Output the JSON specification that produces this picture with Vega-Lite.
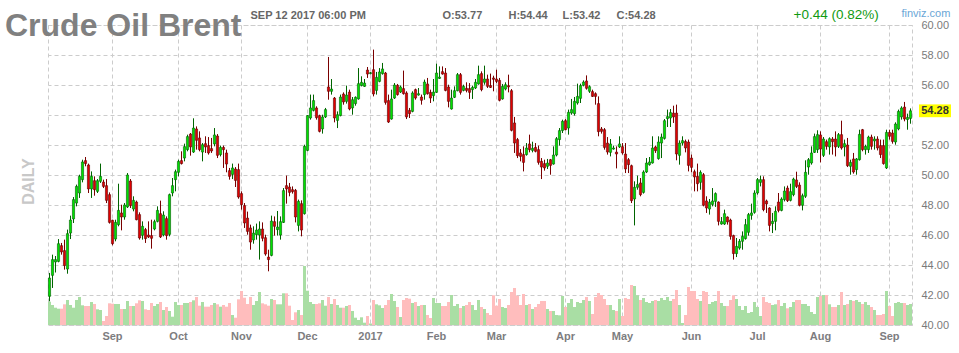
{
"$schema":"https://vega.github.io/schema/vega-lite/v6.json",
"width":864,"height":300,
"autosize":{"type":"none"},
"padding":{"left":48,"top":25,"right":47,"bottom":28},
"background":"white",
"config":{"view":{"stroke":"#cccccc","strokeDash":[4,3],"strokeWidth":1},"font":"Liberation Sans","axis":{"labelOverlap":false,"labelSeparation":0}},
"title":{"text":"Crude Oil Brent","anchor":"start","frame":"group","orient":"top","fontSize":32,"fontWeight":"bold","color":"#808080","font":"Liberation Sans","dx":-43,"dy":60,"offset":0,"baseline":"alphabetic"},
"data":{"values":[
{"date":"2016-08-03","open":41.91,"high":43.47,"low":41.58,"close":43.13,"volume":233},
{"date":"2016-08-04","open":43.31,"high":44.69,"low":42.47,"close":44.36,"volume":200},
{"date":"2016-08-05","open":44.20,"high":44.60,"low":43.50,"close":44.36,"volume":173},
{"date":"2016-08-08","open":44.24,"high":45.73,"low":44.18,"close":45.42,"volume":163},
{"date":"2016-08-09","open":45.29,"high":45.47,"low":44.69,"close":44.87,"volume":163},
{"date":"2016-08-10","open":44.96,"high":45.69,"low":43.69,"close":43.96,"volume":207},
{"date":"2016-08-11","open":43.73,"high":46.36,"low":43.42,"close":46.09,"volume":250},
{"date":"2016-08-12","open":46.13,"high":47.29,"low":45.73,"close":47.00,"volume":200},
{"date":"2016-08-15","open":47.07,"high":48.53,"low":46.80,"close":48.36,"volume":173},
{"date":"2016-08-16","open":48.13,"high":49.36,"low":47.91,"close":49.24,"volume":250},
{"date":"2016-08-17","open":48.80,"high":50.02,"low":48.47,"close":49.91,"volume":280},
{"date":"2016-08-18","open":49.69,"high":51.02,"low":49.51,"close":50.87,"volume":197},
{"date":"2016-08-19","open":50.96,"high":51.20,"low":50.58,"close":50.76,"volume":190},
{"date":"2016-08-22","open":50.67,"high":50.76,"low":48.80,"close":49.07,"volume":190},
{"date":"2016-08-23","open":49.07,"high":50.24,"low":48.47,"close":49.91,"volume":230},
{"date":"2016-08-24","open":49.62,"high":49.91,"low":48.62,"close":49.02,"volume":210},
{"date":"2016-08-25","open":48.91,"high":49.73,"low":48.80,"close":49.62,"volume":157},
{"date":"2016-08-26","open":49.58,"high":50.76,"low":49.47,"close":49.91,"volume":150},
{"date":"2016-08-29","open":49.53,"high":49.69,"low":49.13,"close":49.24,"volume":40},
{"date":"2016-08-30","open":49.29,"high":49.73,"low":48.13,"close":48.31,"volume":90},
{"date":"2016-08-31","open":48.69,"high":48.84,"low":46.76,"close":46.84,"volume":217},
{"date":"2016-09-01","open":46.98,"high":47.02,"low":45.31,"close":45.42,"volume":213},
{"date":"2016-09-02","open":45.73,"high":47.02,"low":45.58,"close":46.84,"volume":210},
{"date":"2016-09-05","open":46.69,"high":49.42,"low":46.58,"close":47.64,"volume":210},
{"date":"2016-09-06","open":47.47,"high":48.02,"low":46.31,"close":47.20,"volume":160},
{"date":"2016-09-07","open":47.20,"high":48.13,"low":47.02,"close":48.00,"volume":160},
{"date":"2016-09-08","open":47.87,"high":50.13,"low":47.80,"close":50.00,"volume":240},
{"date":"2016-09-09","open":49.60,"high":49.73,"low":47.80,"close":47.96,"volume":190},
{"date":"2016-09-12","open":47.73,"high":48.58,"low":47.58,"close":48.31,"volume":190},
{"date":"2016-09-13","open":48.20,"high":48.29,"low":46.98,"close":47.02,"volume":217},
{"date":"2016-09-14","open":47.36,"high":47.51,"low":45.69,"close":45.80,"volume":247},
{"date":"2016-09-15","open":45.98,"high":46.91,"low":45.69,"close":46.58,"volume":240},
{"date":"2016-09-16","open":46.36,"high":46.47,"low":45.47,"close":45.76,"volume":157},
{"date":"2016-09-19","open":46.00,"high":46.91,"low":45.80,"close":45.87,"volume":150},
{"date":"2016-09-20","open":45.96,"high":47.02,"low":45.09,"close":45.78,"volume":220},
{"date":"2016-09-21","open":46.40,"high":47.02,"low":46.31,"close":46.89,"volume":190},
{"date":"2016-09-22","open":46.91,"high":47.91,"low":46.84,"close":47.64,"volume":210},
{"date":"2016-09-23","open":47.42,"high":48.29,"low":45.80,"close":45.87,"volume":230},
{"date":"2016-09-26","open":46.00,"high":47.58,"low":45.91,"close":47.33,"volume":150},
{"date":"2016-09-27","open":47.09,"high":47.24,"low":45.69,"close":45.96,"volume":180},
{"date":"2016-09-28","open":46.04,"high":48.76,"low":45.91,"close":48.69,"volume":140},
{"date":"2016-09-29","open":48.80,"high":49.80,"low":48.58,"close":49.29,"volume":83},
{"date":"2016-09-30","open":49.69,"high":50.36,"low":48.91,"close":50.22,"volume":230},
{"date":"2016-10-03","open":50.18,"high":51.02,"low":49.91,"close":50.91,"volume":200},
{"date":"2016-10-04","open":50.96,"high":51.58,"low":50.70,"close":50.76,"volume":200},
{"date":"2016-10-05","open":51.13,"high":52.09,"low":50.91,"close":51.89,"volume":220},
{"date":"2016-10-06","open":51.69,"high":52.69,"low":51.58,"close":52.56,"volume":220},
{"date":"2016-10-07","open":52.73,"high":52.80,"low":51.29,"close":51.87,"volume":230},
{"date":"2016-10-10","open":51.53,"high":53.78,"low":51.47,"close":53.13,"volume":247},
{"date":"2016-10-11","open":53.07,"high":53.24,"low":51.69,"close":52.31,"volume":280},
{"date":"2016-10-12","open":52.47,"high":52.91,"low":51.58,"close":51.69,"volume":193},
{"date":"2016-10-13","open":51.53,"high":52.13,"low":50.91,"close":52.02,"volume":230},
{"date":"2016-10-14","open":52.09,"high":52.58,"low":51.47,"close":51.87,"volume":183},
{"date":"2016-10-17","open":51.96,"high":52.53,"low":51.36,"close":51.47,"volume":183},
{"date":"2016-10-18","open":51.76,"high":52.47,"low":51.47,"close":51.60,"volume":200},
{"date":"2016-10-19","open":52.07,"high":53.13,"low":51.91,"close":52.67,"volume":220},
{"date":"2016-10-20","open":52.60,"high":52.73,"low":51.13,"close":51.31,"volume":207},
{"date":"2016-10-21","open":51.36,"high":51.96,"low":51.24,"close":51.84,"volume":183},
{"date":"2016-10-24","open":51.84,"high":51.96,"low":50.47,"close":51.69,"volume":200},
{"date":"2016-10-25","open":51.47,"high":51.69,"low":50.18,"close":50.73,"volume":183},
{"date":"2016-10-26","open":50.29,"high":50.47,"low":49.69,"close":49.91,"volume":220},
{"date":"2016-10-27","open":50.04,"high":50.76,"low":49.73,"close":50.47,"volume":100},
{"date":"2016-10-28","open":50.40,"high":50.53,"low":49.20,"close":49.64,"volume":73},
{"date":"2016-10-31","open":50.36,"high":50.76,"low":48.42,"close":48.53,"volume":257},
{"date":"2016-11-01","open":48.76,"high":48.91,"low":47.69,"close":48.02,"volume":340},
{"date":"2016-11-02","open":47.96,"high":48.13,"low":46.47,"close":46.80,"volume":273},
{"date":"2016-11-03","open":47.13,"high":47.56,"low":46.02,"close":46.24,"volume":210},
{"date":"2016-11-04","open":46.47,"high":46.69,"low":45.02,"close":45.53,"volume":280},
{"date":"2016-11-07","open":45.67,"high":46.58,"low":45.42,"close":46.13,"volume":200},
{"date":"2016-11-08","open":46.02,"high":46.76,"low":45.69,"close":46.33,"volume":240},
{"date":"2016-11-09","open":46.00,"high":46.91,"low":44.36,"close":46.40,"volume":330},
{"date":"2016-11-10","open":46.40,"high":46.84,"low":45.58,"close":45.78,"volume":217},
{"date":"2016-11-11","open":45.82,"high":46.02,"low":44.62,"close":44.73,"volume":207},
{"date":"2016-11-14","open":44.53,"high":45.02,"low":43.58,"close":44.36,"volume":193},
{"date":"2016-11-15","open":44.64,"high":47.29,"low":44.58,"close":46.93,"volume":260},
{"date":"2016-11-16","open":46.89,"high":47.24,"low":45.96,"close":46.58,"volume":250},
{"date":"2016-11-17","open":46.36,"high":47.60,"low":45.96,"close":46.53,"volume":207},
{"date":"2016-11-18","open":46.00,"high":47.24,"low":45.69,"close":46.89,"volume":207},
{"date":"2016-11-21","open":46.84,"high":49.13,"low":46.80,"close":48.96,"volume":317},
{"date":"2016-11-22","open":49.29,"high":49.96,"low":48.09,"close":49.07,"volume":317},
{"date":"2016-11-23","open":49.20,"high":49.47,"low":48.58,"close":48.84,"volume":193},
{"date":"2016-11-24","open":49.02,"high":49.24,"low":48.76,"close":48.89,"volume":50},
{"date":"2016-11-25","open":48.98,"high":49.07,"low":46.84,"close":47.20,"volume":127},
{"date":"2016-11-28","open":46.64,"high":48.36,"low":46.24,"close":48.24,"volume":150},
{"date":"2016-11-29","open":48.09,"high":48.31,"low":45.91,"close":46.33,"volume":100},
{"date":"2016-11-30","open":47.42,"high":52.02,"low":47.36,"close":51.91,"volume":590},
{"date":"2016-12-01","open":51.64,"high":54.00,"low":51.58,"close":53.96,"volume":343},
{"date":"2016-12-02","open":53.80,"high":55.36,"low":53.69,"close":54.47,"volume":230},
{"date":"2016-12-05","open":54.31,"high":55.36,"low":54.24,"close":54.96,"volume":210},
{"date":"2016-12-06","open":54.47,"high":54.58,"low":53.69,"close":53.82,"volume":210},
{"date":"2016-12-07","open":53.96,"high":54.02,"low":52.84,"close":52.91,"volume":217},
{"date":"2016-12-08","open":53.07,"high":54.02,"low":52.76,"close":53.87,"volume":250},
{"date":"2016-12-09","open":53.87,"high":54.47,"low":53.80,"close":54.36,"volume":193},
{"date":"2016-12-12","open":55.87,"high":57.87,"low":55.02,"close":55.58,"volume":280},
{"date":"2016-12-13","open":55.58,"high":56.40,"low":55.36,"close":55.73,"volume":210},
{"date":"2016-12-14","open":55.13,"high":55.20,"low":53.51,"close":53.80,"volume":260},
{"date":"2016-12-15","open":53.64,"high":54.24,"low":53.13,"close":54.02,"volume":200},
{"date":"2016-12-16","open":53.96,"high":55.36,"low":53.91,"close":55.20,"volume":173},
{"date":"2016-12-19","open":55.40,"high":55.51,"low":54.69,"close":54.87,"volume":173},
{"date":"2016-12-20","open":54.91,"high":55.96,"low":54.76,"close":55.33,"volume":190},
{"date":"2016-12-21","open":55.53,"high":55.69,"low":54.31,"close":54.40,"volume":200},
{"date":"2016-12-22","open":54.47,"high":55.20,"low":54.02,"close":55.02,"volume":140},
{"date":"2016-12-23","open":54.76,"high":55.24,"low":54.62,"close":55.18,"volume":73},
{"date":"2016-12-27","open":55.07,"high":57.13,"low":55.02,"close":56.09,"volume":50},
{"date":"2016-12-28","open":55.96,"high":56.58,"low":55.91,"close":56.18,"volume":77},
{"date":"2016-12-29","open":55.91,"high":56.40,"low":55.87,"close":56.13,"volume":23},
{"date":"2016-12-30","open":57.00,"high":57.20,"low":56.47,"close":56.73,"volume":90},
{"date":"2017-01-02","open":56.76,"high":56.87,"low":56.71,"close":56.82,"volume":15},
{"date":"2017-01-03","open":57.02,"high":58.36,"low":55.24,"close":55.40,"volume":250},
{"date":"2017-01-04","open":55.64,"high":56.87,"low":55.36,"close":56.51,"volume":207},
{"date":"2017-01-05","open":56.24,"high":57.13,"low":56.18,"close":56.87,"volume":197},
{"date":"2017-01-06","open":56.76,"high":57.47,"low":56.69,"close":57.07,"volume":170},
{"date":"2017-01-09","open":56.80,"high":56.87,"low":54.69,"close":54.84,"volume":200},
{"date":"2017-01-10","open":54.96,"high":55.36,"low":53.47,"close":53.53,"volume":250},
{"date":"2017-01-11","open":53.73,"high":55.69,"low":53.69,"close":55.07,"volume":310},
{"date":"2017-01-12","open":55.13,"high":56.13,"low":55.07,"close":56.00,"volume":240},
{"date":"2017-01-13","open":55.98,"high":56.07,"low":55.29,"close":55.36,"volume":180},
{"date":"2017-01-16","open":55.53,"high":55.96,"low":55.47,"close":55.87,"volume":80},
{"date":"2017-01-17","open":55.76,"high":56.96,"low":55.36,"close":55.42,"volume":250},
{"date":"2017-01-18","open":55.47,"high":55.58,"low":53.73,"close":53.87,"volume":270},
{"date":"2017-01-19","open":54.31,"high":54.47,"low":53.80,"close":54.09,"volume":263},
{"date":"2017-01-20","open":54.24,"high":55.58,"low":54.18,"close":55.47,"volume":220},
{"date":"2017-01-23","open":55.69,"high":55.76,"low":55.02,"close":55.13,"volume":230},
{"date":"2017-01-24","open":55.33,"high":55.80,"low":55.29,"close":55.42,"volume":190},
{"date":"2017-01-25","open":55.20,"high":55.36,"low":54.69,"close":54.98,"volume":200},
{"date":"2017-01-26","open":55.36,"high":56.36,"low":55.02,"close":56.20,"volume":200},
{"date":"2017-01-27","open":56.07,"high":56.47,"low":55.36,"close":55.42,"volume":100},
{"date":"2017-01-30","open":55.51,"high":55.69,"low":54.80,"close":55.13,"volume":70},
{"date":"2017-01-31","open":55.29,"high":56.40,"low":54.91,"close":55.53,"volume":270},
{"date":"2017-02-01","open":55.51,"high":57.42,"low":55.47,"close":56.80,"volume":220},
{"date":"2017-02-02","open":56.44,"high":57.24,"low":56.40,"close":56.53,"volume":220},
{"date":"2017-02-03","open":56.89,"high":57.24,"low":56.69,"close":56.73,"volume":190},
{"date":"2017-02-06","open":56.80,"high":57.13,"low":55.58,"close":55.64,"volume":190},
{"date":"2017-02-07","open":55.87,"high":56.02,"low":54.51,"close":54.91,"volume":230},
{"date":"2017-02-08","open":54.40,"high":55.69,"low":54.36,"close":55.13,"volume":300},
{"date":"2017-02-09","open":55.18,"high":55.91,"low":55.13,"close":55.62,"volume":190},
{"date":"2017-02-10","open":55.62,"high":56.80,"low":55.58,"close":56.69,"volume":210},
{"date":"2017-02-13","open":56.69,"high":56.80,"low":55.36,"close":55.51,"volume":170},
{"date":"2017-02-14","open":55.64,"high":56.02,"low":55.58,"close":55.91,"volume":190},
{"date":"2017-02-15","open":55.78,"high":56.18,"low":55.51,"close":55.64,"volume":200},
{"date":"2017-02-16","open":55.76,"high":56.13,"low":55.07,"close":55.51,"volume":230},
{"date":"2017-02-17","open":55.69,"high":55.96,"low":55.07,"close":55.84,"volume":200},
{"date":"2017-02-20","open":55.80,"high":56.40,"low":55.73,"close":56.18,"volume":150},
{"date":"2017-02-21","open":56.07,"high":57.29,"low":56.02,"close":56.69,"volume":250},
{"date":"2017-02-22","open":56.76,"high":56.91,"low":55.58,"close":55.69,"volume":180},
{"date":"2017-02-23","open":56.18,"high":57.29,"low":56.02,"close":56.40,"volume":160},
{"date":"2017-02-24","open":56.40,"high":56.69,"low":55.80,"close":55.91,"volume":120},
{"date":"2017-02-27","open":55.96,"high":56.76,"low":55.80,"close":55.84,"volume":100},
{"date":"2017-02-28","open":56.47,"high":56.62,"low":55.58,"close":56.38,"volume":297},
{"date":"2017-03-01","open":56.40,"high":57.02,"low":56.13,"close":56.24,"volume":193},
{"date":"2017-03-02","open":56.31,"high":56.47,"low":54.91,"close":54.98,"volume":260},
{"date":"2017-03-03","open":55.07,"high":56.07,"low":55.02,"close":55.91,"volume":180},
{"date":"2017-03-06","open":55.73,"high":56.18,"low":55.64,"close":56.02,"volume":170},
{"date":"2017-03-07","open":55.96,"high":56.69,"low":55.51,"close":55.87,"volume":200},
{"date":"2017-03-08","open":55.62,"high":55.73,"low":52.91,"close":52.98,"volume":330},
{"date":"2017-03-09","open":53.47,"high":53.87,"low":51.47,"close":52.13,"volume":370},
{"date":"2017-03-10","open":52.36,"high":52.47,"low":51.13,"close":51.29,"volume":293},
{"date":"2017-03-13","open":51.47,"high":51.73,"low":50.91,"close":51.24,"volume":200},
{"date":"2017-03-14","open":51.36,"high":51.91,"low":50.24,"close":50.84,"volume":310},
{"date":"2017-03-15","open":51.36,"high":52.13,"low":51.29,"close":51.80,"volume":200},
{"date":"2017-03-16","open":52.07,"high":52.69,"low":51.51,"close":51.69,"volume":210},
{"date":"2017-03-17","open":51.64,"high":52.22,"low":51.51,"close":51.78,"volume":160},
{"date":"2017-03-20","open":51.84,"high":52.13,"low":51.51,"close":51.58,"volume":180},
{"date":"2017-03-21","open":51.69,"high":51.96,"low":50.69,"close":50.84,"volume":210},
{"date":"2017-03-22","open":50.91,"high":51.13,"low":49.73,"close":50.53,"volume":240},
{"date":"2017-03-23","open":50.76,"high":51.02,"low":50.29,"close":50.47,"volume":240},
{"date":"2017-03-24","open":50.58,"high":51.07,"low":50.40,"close":50.80,"volume":160},
{"date":"2017-03-27","open":51.02,"high":51.07,"low":50.02,"close":50.64,"volume":140},
{"date":"2017-03-28","open":50.73,"high":51.91,"low":50.69,"close":51.33,"volume":140},
{"date":"2017-03-29","open":51.33,"high":52.53,"low":51.24,"close":52.42,"volume":100},
{"date":"2017-03-30","open":52.36,"high":53.13,"low":51.96,"close":52.96,"volume":97},
{"date":"2017-03-31","open":52.96,"high":53.69,"low":52.80,"close":53.58,"volume":290},
{"date":"2017-04-03","open":53.62,"high":53.73,"low":52.98,"close":53.02,"volume":180},
{"date":"2017-04-04","open":53.13,"high":54.36,"low":52.69,"close":54.18,"volume":220},
{"date":"2017-04-05","open":54.13,"high":55.07,"low":54.02,"close":54.36,"volume":260},
{"date":"2017-04-06","open":54.09,"high":55.20,"low":53.96,"close":54.91,"volume":180},
{"date":"2017-04-07","open":54.80,"high":56.09,"low":54.69,"close":55.24,"volume":230},
{"date":"2017-04-10","open":55.11,"high":56.09,"low":54.80,"close":55.96,"volume":220},
{"date":"2017-04-11","open":55.98,"high":56.31,"low":55.91,"close":56.20,"volume":250},
{"date":"2017-04-12","open":56.27,"high":56.64,"low":55.69,"close":55.78,"volume":280},
{"date":"2017-04-13","open":55.58,"high":55.98,"low":55.47,"close":55.89,"volume":240},
{"date":"2017-04-17","open":55.56,"high":55.69,"low":55.20,"close":55.24,"volume":110},
{"date":"2017-04-18","open":55.42,"high":55.51,"low":54.69,"close":55.24,"volume":280},
{"date":"2017-04-19","open":54.76,"high":55.24,"low":52.58,"close":52.89,"volume":320},
{"date":"2017-04-20","open":53.07,"high":53.20,"low":52.76,"close":52.91,"volume":300},
{"date":"2017-04-21","open":53.02,"high":53.13,"low":51.69,"close":51.84,"volume":260},
{"date":"2017-04-24","open":52.13,"high":52.53,"low":51.36,"close":51.53,"volume":200},
{"date":"2017-04-25","open":51.51,"high":52.40,"low":51.24,"close":52.07,"volume":200},
{"date":"2017-04-26","open":51.73,"high":51.96,"low":51.69,"close":51.80,"volume":150},
{"date":"2017-04-27","open":51.53,"high":51.91,"low":50.44,"close":51.40,"volume":140},
{"date":"2017-04-28","open":51.87,"high":52.58,"low":51.80,"close":52.07,"volume":260},
{"date":"2017-05-01","open":51.89,"high":52.13,"low":51.36,"close":51.47,"volume":90},
{"date":"2017-05-02","open":51.40,"high":52.13,"low":50.13,"close":50.40,"volume":270},
{"date":"2017-05-03","open":51.02,"high":51.13,"low":50.13,"close":50.69,"volume":260},
{"date":"2017-05-04","open":50.62,"high":50.69,"low":48.13,"close":48.29,"volume":400},
{"date":"2017-05-05","open":48.40,"high":49.58,"low":46.64,"close":49.18,"volume":390},
{"date":"2017-05-08","open":49.18,"high":49.96,"low":49.02,"close":49.36,"volume":297},
{"date":"2017-05-09","open":49.47,"high":49.80,"low":48.58,"close":48.69,"volume":250},
{"date":"2017-05-10","open":48.84,"high":50.31,"low":48.76,"close":50.20,"volume":270},
{"date":"2017-05-11","open":50.20,"high":51.13,"low":50.13,"close":50.80,"volume":230},
{"date":"2017-05-12","open":50.69,"high":51.20,"low":50.62,"close":50.87,"volume":220},
{"date":"2017-05-15","open":50.80,"high":52.58,"low":50.76,"close":51.80,"volume":240},
{"date":"2017-05-16","open":51.87,"high":51.96,"low":51.47,"close":51.62,"volume":250},
{"date":"2017-05-17","open":51.09,"high":52.58,"low":51.02,"close":52.20,"volume":240},
{"date":"2017-05-18","open":52.13,"high":52.76,"low":51.13,"close":52.53,"volume":270},
{"date":"2017-05-19","open":52.44,"high":53.73,"low":52.36,"close":53.62,"volume":250},
{"date":"2017-05-22","open":53.76,"high":54.36,"low":53.20,"close":53.89,"volume":280},
{"date":"2017-05-23","open":53.80,"high":54.40,"low":53.20,"close":54.16,"volume":240},
{"date":"2017-05-24","open":54.13,"high":54.62,"low":53.47,"close":53.87,"volume":260},
{"date":"2017-05-25","open":54.13,"high":54.69,"low":50.98,"close":51.40,"volume":350},
{"date":"2017-05-26","open":51.31,"high":52.31,"low":50.69,"close":52.13,"volume":200},
{"date":"2017-05-29","open":52.13,"high":52.58,"low":51.96,"close":52.29,"volume":20},
{"date":"2017-05-30","open":52.24,"high":52.36,"low":51.51,"close":51.80,"volume":100},
{"date":"2017-05-31","open":52.20,"high":52.36,"low":50.24,"close":50.64,"volume":380},
{"date":"2017-06-01","open":51.13,"high":51.36,"low":50.18,"close":50.51,"volume":340},
{"date":"2017-06-02","open":50.22,"high":50.36,"low":48.91,"close":49.87,"volume":340},
{"date":"2017-06-05","open":49.91,"high":50.76,"low":48.91,"close":49.42,"volume":260},
{"date":"2017-06-06","open":49.51,"high":50.31,"low":49.02,"close":50.18,"volume":240},
{"date":"2017-06-07","open":50.02,"high":50.13,"low":47.91,"close":47.98,"volume":340},
{"date":"2017-06-08","open":48.27,"high":48.58,"low":47.47,"close":47.80,"volume":330},
{"date":"2017-06-09","open":47.73,"high":48.40,"low":47.36,"close":48.18,"volume":210},
{"date":"2017-06-12","open":48.04,"high":49.13,"low":47.91,"close":48.27,"volume":230},
{"date":"2017-06-13","open":48.24,"high":48.84,"low":47.87,"close":48.76,"volume":240},
{"date":"2017-06-14","open":48.20,"high":48.24,"low":46.64,"close":46.91,"volume":340},
{"date":"2017-06-15","open":46.73,"high":47.20,"low":46.69,"close":46.89,"volume":220},
{"date":"2017-06-16","open":46.73,"high":47.69,"low":46.67,"close":47.42,"volume":190},
{"date":"2017-06-19","open":47.20,"high":47.24,"low":46.69,"close":46.87,"volume":190},
{"date":"2017-06-20","open":47.00,"high":47.09,"low":45.69,"close":45.91,"volume":250},
{"date":"2017-06-21","open":45.96,"high":46.02,"low":44.36,"close":44.76,"volume":297},
{"date":"2017-06-22","open":44.76,"high":45.80,"low":44.53,"close":45.24,"volume":260},
{"date":"2017-06-23","open":45.13,"high":45.73,"low":45.02,"close":45.58,"volume":190},
{"date":"2017-06-26","open":45.58,"high":46.24,"low":45.02,"close":45.91,"volume":150},
{"date":"2017-06-27","open":45.76,"high":47.07,"low":45.69,"close":46.69,"volume":190},
{"date":"2017-06-28","open":46.18,"high":47.47,"low":45.96,"close":47.36,"volume":120},
{"date":"2017-06-29","open":47.31,"high":48.09,"low":47.02,"close":47.47,"volume":130},
{"date":"2017-06-30","open":47.51,"high":48.98,"low":47.42,"close":48.80,"volume":230},
{"date":"2017-07-03","open":48.80,"high":49.80,"low":48.69,"close":49.69,"volume":180},
{"date":"2017-07-04","open":49.51,"high":49.96,"low":49.24,"close":49.69,"volume":90},
{"date":"2017-07-05","open":49.69,"high":49.91,"low":47.58,"close":47.69,"volume":280},
{"date":"2017-07-06","open":48.27,"high":48.36,"low":47.47,"close":48.07,"volume":230},
{"date":"2017-07-07","open":47.80,"high":47.85,"low":46.24,"close":46.64,"volume":220},
{"date":"2017-07-10","open":46.76,"high":47.47,"low":46.13,"close":46.91,"volume":200},
{"date":"2017-07-11","open":46.91,"high":47.91,"low":46.31,"close":47.58,"volume":207},
{"date":"2017-07-12","open":48.20,"high":48.80,"low":47.51,"close":47.64,"volume":250},
{"date":"2017-07-13","open":47.64,"high":48.51,"low":47.58,"close":48.40,"volume":190},
{"date":"2017-07-14","open":48.36,"high":49.24,"low":48.24,"close":48.93,"volume":220},
{"date":"2017-07-17","open":49.13,"high":49.29,"low":48.20,"close":48.29,"volume":167},
{"date":"2017-07-18","open":48.31,"high":49.42,"low":48.24,"close":48.89,"volume":180},
{"date":"2017-07-19","open":48.69,"high":49.82,"low":48.58,"close":49.73,"volume":230},
{"date":"2017-07-20","open":49.67,"high":50.22,"low":49.13,"close":49.24,"volume":250},
{"date":"2017-07-21","open":49.33,"high":49.51,"low":47.91,"close":47.98,"volume":250},
{"date":"2017-07-24","open":47.98,"high":48.76,"low":47.64,"close":48.62,"volume":210},
{"date":"2017-07-25","open":48.58,"high":50.98,"low":48.47,"close":50.18,"volume":210},
{"date":"2017-07-26","open":50.53,"high":51.13,"low":50.02,"close":51.02,"volume":190},
{"date":"2017-07-27","open":50.80,"high":51.91,"low":50.69,"close":51.47,"volume":130},
{"date":"2017-07-28","open":51.51,"high":52.76,"low":51.47,"close":52.56,"volume":110},
{"date":"2017-07-31","open":51.69,"high":52.98,"low":51.47,"close":52.69,"volume":280},
{"date":"2017-08-01","open":52.67,"high":52.91,"low":50.84,"close":51.73,"volume":290},
{"date":"2017-08-02","open":51.31,"high":52.53,"low":51.20,"close":52.40,"volume":300},
{"date":"2017-08-03","open":52.22,"high":52.36,"low":51.69,"close":51.91,"volume":300},
{"date":"2017-08-04","open":51.87,"high":52.51,"low":51.36,"close":52.42,"volume":207},
{"date":"2017-08-07","open":52.40,"high":52.53,"low":51.36,"close":52.22,"volume":180},
{"date":"2017-08-08","open":52.40,"high":52.91,"low":51.24,"close":51.87,"volume":180},
{"date":"2017-08-09","open":51.91,"high":52.80,"low":51.80,"close":52.69,"volume":200},
{"date":"2017-08-10","open":52.69,"high":53.62,"low":51.69,"close":51.80,"volume":330},
{"date":"2017-08-11","open":51.87,"high":52.36,"low":51.24,"close":52.09,"volume":200},
{"date":"2017-08-14","open":52.00,"high":52.47,"low":50.53,"close":50.62,"volume":210},
{"date":"2017-08-15","open":50.58,"high":51.02,"low":50.02,"close":50.84,"volume":250},
{"date":"2017-08-16","open":51.07,"high":51.47,"low":50.09,"close":50.20,"volume":240},
{"date":"2017-08-17","open":50.36,"high":51.13,"low":50.02,"close":51.07,"volume":250},
{"date":"2017-08-18","open":51.02,"high":53.02,"low":50.96,"close":52.71,"volume":230},
{"date":"2017-08-21","open":53.02,"high":53.07,"low":51.58,"close":51.69,"volume":210},
{"date":"2017-08-22","open":51.69,"high":52.02,"low":51.36,"close":51.91,"volume":230},
{"date":"2017-08-23","open":51.69,"high":52.62,"low":51.47,"close":52.53,"volume":200},
{"date":"2017-08-24","open":52.53,"high":52.69,"low":51.69,"close":51.91,"volume":180},
{"date":"2017-08-25","open":52.27,"high":52.58,"low":51.69,"close":52.40,"volume":150},
{"date":"2017-08-28","open":52.40,"high":52.58,"low":51.64,"close":51.80,"volume":100},
{"date":"2017-08-29","open":51.96,"high":52.36,"low":51.13,"close":51.36,"volume":100},
{"date":"2017-08-30","open":51.96,"high":52.36,"low":50.69,"close":50.76,"volume":110},
{"date":"2017-08-31","open":50.47,"high":53.02,"low":50.40,"close":52.84,"volume":340},
{"date":"2017-09-01","open":52.84,"high":53.02,"low":52.36,"close":52.58,"volume":190},
{"date":"2017-09-04","open":52.80,"high":53.02,"low":52.09,"close":52.24,"volume":90},
{"date":"2017-09-05","open":52.20,"high":53.51,"low":52.02,"close":53.40,"volume":220},
{"date":"2017-09-06","open":53.07,"high":54.36,"low":52.98,"close":54.24,"volume":230},
{"date":"2017-09-07","open":53.87,"high":54.58,"low":53.69,"close":54.47,"volume":220},
{"date":"2017-09-08","open":54.53,"high":54.87,"low":53.58,"close":53.73,"volume":220},
{"date":"2017-09-11","open":53.70,"high":54.09,"low":53.02,"close":53.84,"volume":200},
{"date":"2017-09-12","open":53.77,"high":54.44,"low":53.42,"close":54.28,"volume":210}
]},
"layer":[
{
"mark":{"type":"bar"},
"encoding":{
"x":{"field":"date","type":"ordinal","scale":{"type":"band","paddingInner":0,"paddingOuter":0},
"axis":{"values":["2016-09-01","2016-10-03","2016-11-01","2016-12-01","2017-01-02","2017-02-01","2017-03-01","2017-04-03","2017-05-01","2017-06-01","2017-07-03","2017-08-01","2017-09-01"],
"labelExpr":"datum.value == '2017-01-02' ? '2017' : timeFormat(toDate(datum.value + 'T12:00:00'), '%b')",
"bandPosition":0.5,"grid":true,"gridColor":"#cccccc","gridDash":[4,3],"ticks":false,"domain":false,"labelAngle":0,"labelOverlap":false,
"labelFontSize":11,"labelFontWeight":"bold","labelColor":"#7d7d80","labelPadding":5,"title":null}},
"y":{"field":"volume","type":"quantitative","scale":{"domain":[0,3000],"nice":false,"zero":true},
"axis":{"orient":"left","title":"DAILY","labels":false,"ticks":false,"domain":false,"grid":false,
"titleFontSize":16,"titleFontWeight":"bold","titleColor":"#c8c8c8","titlePadding":12,"titleY":156}},
"fill":{"condition":{"test":"datum.close >= datum.open","value":"#a9dea4"},"value":"#ffbdbd"}
}
},
{
"resolve":{"axis":{"y":"independent"}},
"layer":[
{
"mark":{"type":"rule","strokeWidth":1},
"encoding":{
"x":{"field":"date","type":"ordinal"},
"y":{"field":"low","type":"quantitative","scale":{"domain":[40,60],"nice":false,"zero":false},
"axis":{"orient":"right","values":[40,42,44,46,48,50,52,54,56,58,60],"labelExpr":"datum.value == 54 ? '' : format(datum.value, '.2f')","labelOverlap":false,
"grid":true,"gridColor":"#cccccc","gridDash":[4,3],"ticks":false,"domain":false,"labelFontSize":11,"labelColor":"#7a7a7a","labelPadding":9,"title":null}},
"y2":{"field":"high"},
"stroke":{"condition":{"test":"datum.close >= datum.open","value":"#006400"},"value":"#7a0000"}
}
},
{
"mark":{"type":"bar","width":{"band":0.72},"strokeWidth":0.6},
"encoding":{
"x":{"field":"date","type":"ordinal"},
"y":{"field":"open","type":"quantitative","scale":{"domain":[40,60],"nice":false,"zero":false},"axis":null},
"y2":{"field":"close"},
"fill":{"condition":{"test":"datum.close >= datum.open","value":"#00e000"},"value":"#e00000"},
"stroke":{"condition":{"test":"datum.close >= datum.open","value":"#005a00"},"value":"#5a0000"}
}
},
{
"transform":[{"filter":"datum.date == '2017-09-12'"}],
"mark":{"type":"point","shape":"M-1,-0.4L1,-0.4L1,0.4L-1,0.4Z","size":1024,"filled":true,"fill":"#ffff00","opacity":1,"strokeWidth":0,"xOffset":24.5},
"encoding":{
"x":{"field":"date","type":"ordinal"},
"y":{"field":"close","type":"quantitative","axis":null}
}
},
{
"transform":[{"filter":"datum.date == '2017-09-12'"}],
"mark":{"type":"text","dx":24.5,"align":"center","baseline":"middle","fontSize":11,"fontWeight":"bold","fill":"#333333"},
"encoding":{
"x":{"field":"date","type":"ordinal"},
"y":{"field":"close","type":"quantitative","axis":null},
"text":{"field":"close","type":"quantitative","format":".2f"}
}
},
{
"data":{"values":[{"label":"SEP 12 2017 06:00 PM"}]},
"mark":{"type":"text","align":"left","baseline":"middle","fontSize":11,"fontWeight":"bold","fill":"#666666"},
"encoding":{"x":{"datum":"2016-11-04","type":"ordinal"},"y":{"datum":60.62,"type":"quantitative","axis":null},"text":{"field":"label"}}
},
{
"data":{"values":[{"label":"O:53.77"}]},
"mark":{"type":"text","align":"left","baseline":"middle","fontSize":11,"fontWeight":"bold","fill":"#666666"},
"encoding":{"x":{"datum":"2017-02-03","type":"ordinal"},"y":{"datum":60.62,"type":"quantitative","axis":null},"text":{"field":"label"}}
},
{
"data":{"values":[{"label":"H:54.44"}]},
"mark":{"type":"text","align":"left","baseline":"middle","fontSize":11,"fontWeight":"bold","fill":"#666666"},
"encoding":{"x":{"datum":"2017-03-07","type":"ordinal"},"y":{"datum":60.62,"type":"quantitative","axis":null},"text":{"field":"label"}}
},
{
"data":{"values":[{"label":"L:53.42"}]},
"mark":{"type":"text","align":"left","baseline":"middle","fontSize":11,"fontWeight":"bold","fill":"#666666"},
"encoding":{"x":{"datum":"2017-03-31","type":"ordinal"},"y":{"datum":60.62,"type":"quantitative","axis":null},"text":{"field":"label"}}
},
{
"data":{"values":[{"label":"C:54.28"}]},
"mark":{"type":"text","align":"left","baseline":"middle","fontSize":11,"fontWeight":"bold","fill":"#666666"},
"encoding":{"x":{"datum":"2017-04-27","type":"ordinal"},"y":{"datum":60.62,"type":"quantitative","axis":null},"text":{"field":"label"}}
},
{
"data":{"values":[{"label":"+0.44 (0.82%)"}]},
"mark":{"type":"text","align":"left","baseline":"middle","fontSize":13.5,"fill":"#109a10"},
"encoding":{"x":{"datum":"2017-07-19","type":"ordinal"},"y":{"datum":60.68,"type":"quantitative","axis":null},"text":{"field":"label"}}
},
{
"data":{"values":[{"label":"finviz.com"}]},
"mark":{"type":"text","align":"left","baseline":"middle","fontSize":11,"fill":"#6aa6d6"},
"encoding":{"x":{"datum":"2017-09-07","type":"ordinal"},"y":{"datum":60.75,"type":"quantitative","axis":null},"text":{"field":"label"}}
}
]
}
],
"resolve":{"scale":{"y":"independent"}}
}
